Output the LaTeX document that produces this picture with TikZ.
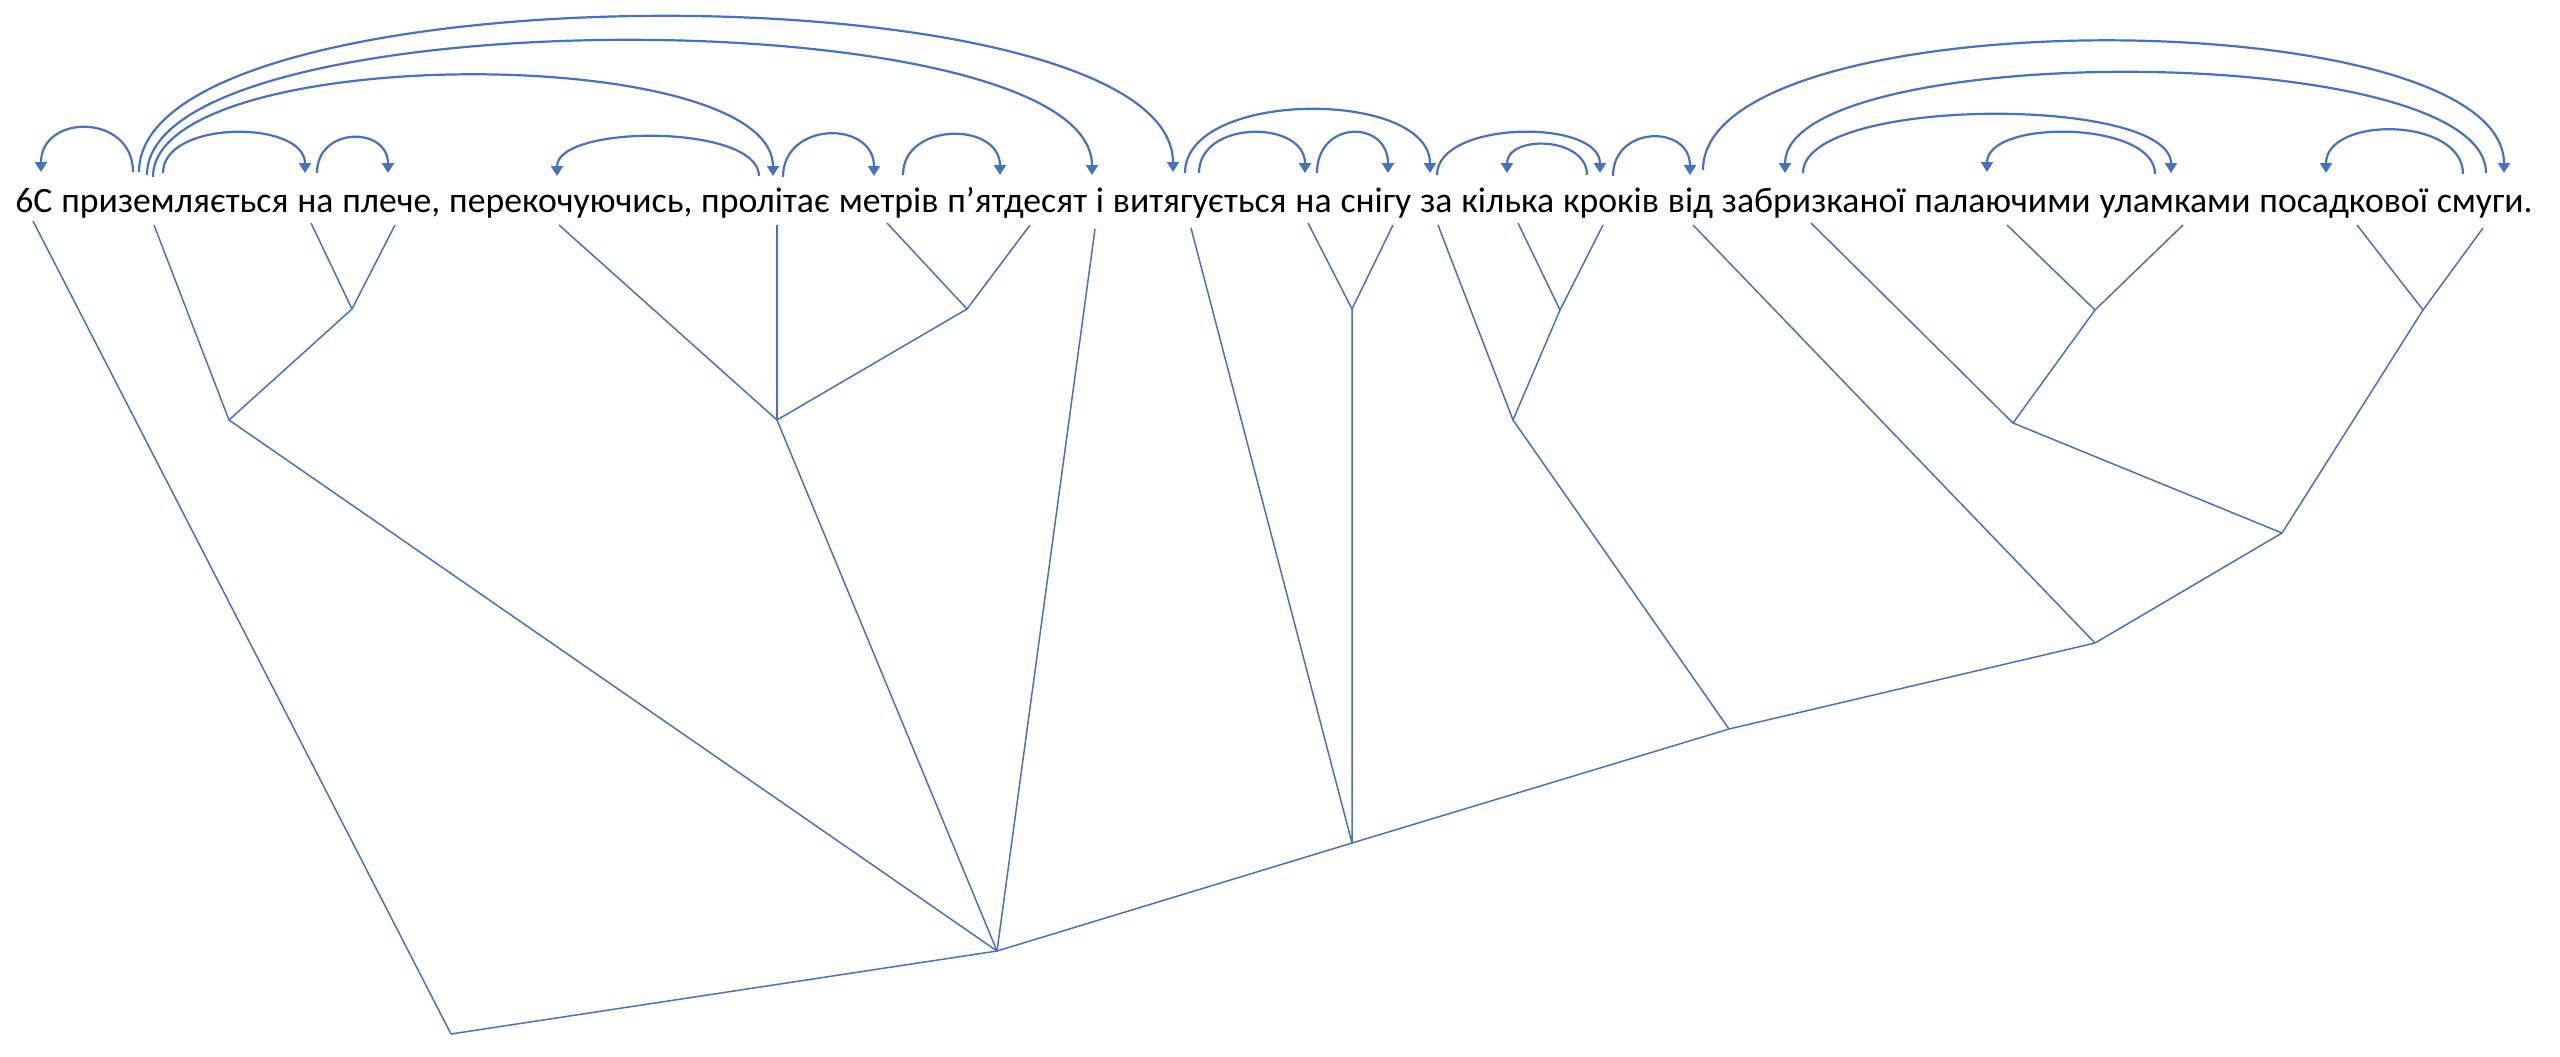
\documentclass[tikz,border=0pt]{standalone}
\usepackage{fontspec}
\setmainfont{Carlito}
\usetikzlibrary{positioning,arrows.meta}
\definecolor{depblue}{HTML}{4472C4}
\tikzset{
	word/.style={
		inner sep=0pt,
		font=\fontsize{17.85pt}{21pt}\selectfont,
	},
	dep/.style={ % requires library arrows.meta
		draw=depblue,
		line width=1.1pt,
		-{Triangle[length=5pt,width=6pt]},
		to path={.. controls +(0,{-4/3*#1}) and +(0,{-4/3*#1}) .. (\tikztotarget)},
	},
	dep/.default=40,
	branch/.style={
		draw=depblue,
		line width=0.75pt,
		line join=round,
	},
}
\begin{document}
\begin{tikzpicture}[x=0.5pt,y=-0.5pt,node distance=4.03pt]
	\useasboundingbox (0,0) rectangle (2560,1056);
	\node[word,anchor=base west] (six) at (15,212) {6С};
	\node[word,base right=of six] (prz) {приземляється};
	\node[word,base right=of prz] (na) {на};
	\node[word,base right=of na] (plc) {плече,};
	\node[word,base right=of plc] (prk) {перекочуючись,};
	\node[word,base right=of prk] (prl) {пролітає};
	\node[word,base right=of prl] (mtr) {метрів};
	\node[word,base right=of mtr] (ptd) {п’ятдесят};
	\node[word,base right=of ptd] (i) {і};
	\node[word,base right=of i] (vtg) {витягується};
	\node[word,base right=of vtg] (na2) {на};
	\node[word,base right=of na2] (sng) {снігу};
	\node[word,base right=of sng] (za) {за};
	\node[word,base right=of za] (klk) {кілька};
	\node[word,base right=of klk] (krk) {кроків};
	\node[word,base right=of krk] (vid) {від};
	\node[word,base right=of vid] (zbr) {забризканої};
	\node[word,base right=of zbr] (plm) {палаючими};
	\node[word,base right=of plm] (ulm) {уламками};
	\node[word,base right=of ulm] (psd) {посадкової};
	\node[word,base right=of psd] (smg) {смуги.};

	% ends of the arcs above the words
	\foreach \n/\x/\y in {six-a/41/172, prz-a/133/172, prz-b/139/172, prz-c/147/175,
			prz-d/153/177, prz-e/163/173, na-a/305/173, na-b/317/173, plc-a/388/173,
			prk-a/557/176, prl-a/759/176, prl-b/773/176, prl-c/783/177, mtr-a/874/176,
			mtr-b/903/175, ptd-a/1000/175, i-a/1092/175, vtg-a/1173/172, vtg-b/1185/173,
			vtg-c/1199/173, na2-a/1305/173, na2-b/1317/173, sng-a/1388/173, za-a/1430/173,
			za-b/1437/175, klk-a/1507/173, krk-a/1587/175, krk-b/1600/173, krk-c/1613/176,
			vid-a/1690/175, vid-b/1703/170, zbr-a/1785/173, zbr-b/1803/173, plm-a/1987/172,
			ulm-a/2155/174, ulm-b/2171/173, psd-a/2326/173, smg-a/2463/174, smg-b/2486/173,
			smg-c/2504/173}
		\coordinate (\n) at (\x,\y);
	% tops of the tree lines below the words
	\foreach \n/\x/\y in {six-t/33/221, prz-t/154/225, na-t/311/223, plc-t/395/225,
			prk-t/559/225, prl-t/777/225, mtr-t/887/223, ptd-t/1030/225, i-t/1095/229,
			vtg-t/1191/228, na2-t/1308/223, sng-t/1393/225, za-t/1438/225, klk-t/1518/223,
			krk-t/1603/225, vid-t/1693/225, zbr-t/1811/223, plm-t/2007/225, ulm-t/2183/225,
			psd-t/2357/225, smg-t/2483/228}
		\coordinate (\n) at (\x,\y);
	% joints of the tree
	\foreach \n/\x/\y in {j1/352/309, j2/229/420, j3/967/309, j4/777/420, j5/1352/309,
			j6/1560/310, j7/1513/420, j8/2095/310, j9/2423/310, j10/2013/423, j11/2282/533,
			j12/2095/643, j13/1729/729, j14/1352/843, j15/997/951, j16/451/1034}
		\coordinate (\n) at (\x,\y);

	\draw[dep=44] (prz-a) to (six-a);
	\draw[dep=155] (prz-b) to (vtg-a);
	\draw[dep=134] (prz-c) to (i-a);
	\draw[dep=101] (prz-d) to (prl-b);
	\draw[dep] (prz-e) to (na-a);
	\draw[dep=35] (na-b) to (plc-a);
	\draw[dep=39] (prl-a) to (prk-a);
	\draw[dep=42] (prl-c) to (mtr-a);
	\draw[dep] (mtr-b) to (ptd-a);
	\draw[dep=63] (vtg-b) to (za-a);
	\draw[dep] (vtg-c) to (na2-a);
	\draw[dep] (na2-b) to (sng-a);
	\draw[dep=41] (za-b) to (krk-b);
	\draw[dep=29] (krk-a) to (klk-a);
	\draw[dep=38] (krk-c) to (vid-a);
	\draw[dep=130] (vid-b) to (smg-c);
	\draw[dep=100] (smg-b) to (zbr-a);
	\draw[dep=58] (zbr-b) to (ulm-b);
	\draw[dep] (ulm-a) to (plm-a);
	\draw[dep=43] (smg-a) to (psd-a);

	\draw[branch] (na-t) -- (j1) -- (plc-t);
	\draw[branch] (prz-t) -- (j2) -- (j1);
	\draw[branch] (mtr-t) -- (j3) -- (ptd-t);
	\draw[branch] (prk-t) -- (j4) -- (j3);
	\draw[branch] (prl-t) -- (j4);
	\draw[branch] (na2-t) -- (j5) -- (sng-t);
	\draw[branch] (klk-t) -- (j6) -- (krk-t);
	\draw[branch] (za-t) -- (j7) -- (j6);
	\draw[branch] (plm-t) -- (j8) -- (ulm-t);
	\draw[branch] (psd-t) -- (j9) -- (smg-t);
	\draw[branch] (zbr-t) -- (j10) -- (j8);
	\draw[branch] (j10) -- (j11) -- (j9);
	\draw[branch] (vid-t) -- (j12) -- (j11);
	\draw[branch] (j7) -- (j13) -- (j12);
	\draw[branch] (vtg-t) -- (j14) -- (j5);
	\draw[branch] (j13) -- (j14);
	\draw[branch] (j2) -- (j15) -- (j4);
	\draw[branch] (i-t) -- (j15) -- (j14);
	\draw[branch] (six-t) -- (j16) -- (j15);
\end{tikzpicture}
\end{document}
